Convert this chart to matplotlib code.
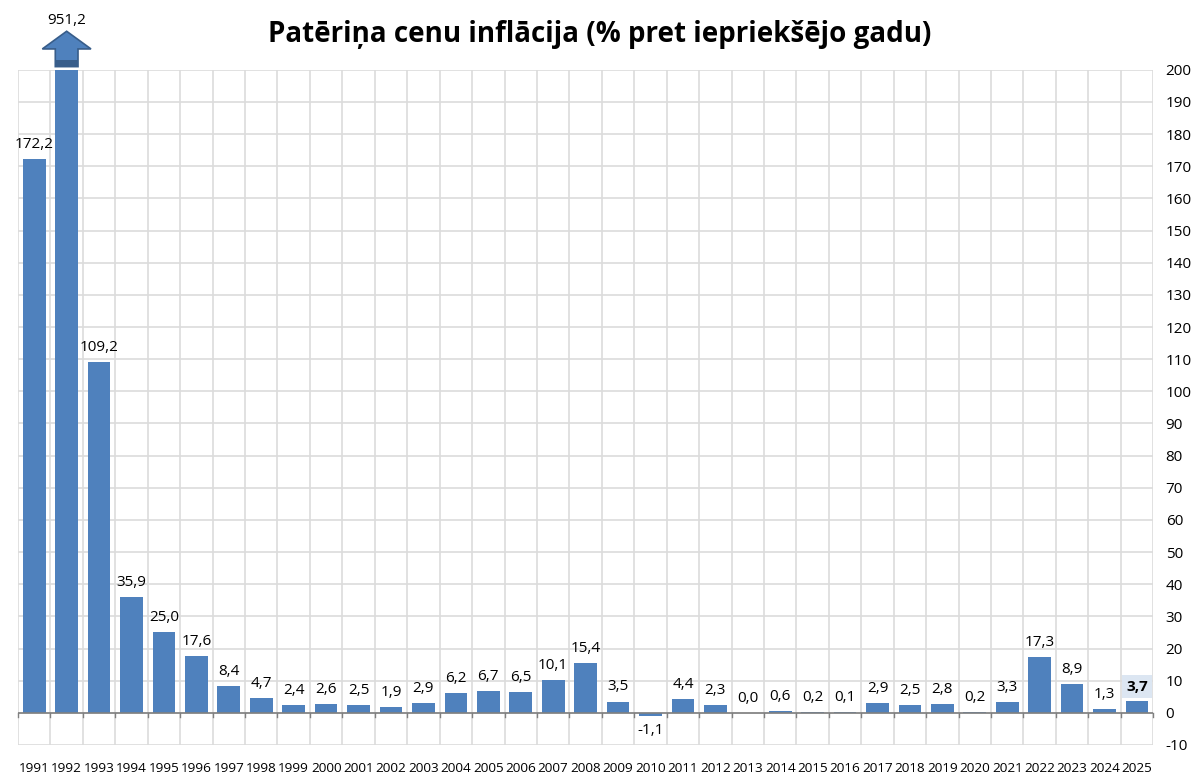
import matplotlib
matplotlib.use("Agg")
import matplotlib.pyplot as plt
from matplotlib.patches import FancyArrow, Rectangle
import numpy as np

plt.rcParams['font.family'] = ['Open Sans', 'DejaVu Sans']

# data
years = list(range(1991, 2026))
inflation = [172.2, 951.2, 109.2, 35.9, 25.0, 17.6, 8.4, 4.7, 2.4, 2.6,
             2.5, 1.9, 2.9, 6.2, 6.7, 6.5, 10.1, 15.4, 3.5, -1.1,
             4.4, 2.3, 0.0, 0.6, 0.2, 0.1, 2.9, 2.5, 2.8, 0.2,
             3.3, 17.3, 8.9, 1.3, 3.7]
y_ticks = list(range(-10, 201, 10))
title = "Patēriņa cenu inflācija (% pret iepriekšējo gadu)"

ymax = 200
bar_color = '#4F81BD'

fig = plt.figure(figsize=(12, 7.76), dpi=100)
ax = fig.add_axes([0.015, 0.04, 0.946, 0.87])

x = np.arange(len(years))
shown = [min(v, ymax) for v in inflation]
ax.bar(x, shown, width=0.7, color=bar_color, zorder=3)

ax.set_xlim(-0.5, len(years) - 0.5)
ax.set_ylim(-10, ymax)

# grid
for b in np.arange(-0.5, len(years), 1.0):
    ax.axvline(b, color='#DCDCDC', lw=1.2, zorder=1)
for t in y_ticks:
    ax.axhline(t, color='#DCDCDC', lw=1.2, zorder=1)
ax.axhline(0, color='#808080', lw=1.2, zorder=4)
for b in np.arange(-0.5, len(years), 1.0):
    ax.plot([b, b], [0, -1.2], color='#808080', lw=1, zorder=4, clip_on=False)

for s in ax.spines.values():
    s.set_visible(False)

ax.yaxis.tick_right()
ax.set_yticks(y_ticks)
ax.set_yticklabels([str(t) for t in y_ticks], fontsize=11)
ax.tick_params(axis='y', length=0, pad=9)
ax.set_xticks(x)
ax.set_xticklabels([str(y) for y in years], fontsize=9.7)
ax.tick_params(axis='x', length=0, pad=12)

# value labels
for i, v in enumerate(inflation):
    lab = f"{v:.1f}".replace('.', ',')
    if v > ymax:
        continue
    if v < 0:
        ax.text(i, v - 2, lab, ha='center', va='top', fontsize=11, zorder=5)
    elif i == len(inflation) - 1:
        ax.text(i, v + 2.2, lab, ha='center', va='bottom', fontsize=11,
                fontweight='bold', zorder=5,
                bbox=dict(boxstyle='square,pad=0.3', fc='#DCE6F2', ec='none'))
    else:
        ax.text(i, v + 2.2, lab, ha='center', va='bottom', fontsize=11, zorder=5)

# arrow for the clipped 1992 bar
i_big = int(np.argmax(inflation))
ax.add_patch(FancyArrow(i_big, ymax + 1, 0, 11, width=0.7, head_width=1.5,
                        head_length=5.5, length_includes_head=True,
                        fc=bar_color, ec='#385D8A', lw=1.2, clip_on=False, zorder=5))
ax.add_patch(Rectangle((i_big - 0.35, ymax + 1), 0.7, 2.2, fc='#385D8A', ec='none',
                       clip_on=False, zorder=6))
ax.text(i_big, ymax + 13, f"{inflation[i_big]:.1f}".replace('.', ','),
        ha='center', va='bottom', fontsize=11)

fig.text(0.5, 0.955, title, ha='center', va='center', fontsize=20, fontweight='bold')

fig.savefig('out.png', dpi=100)
